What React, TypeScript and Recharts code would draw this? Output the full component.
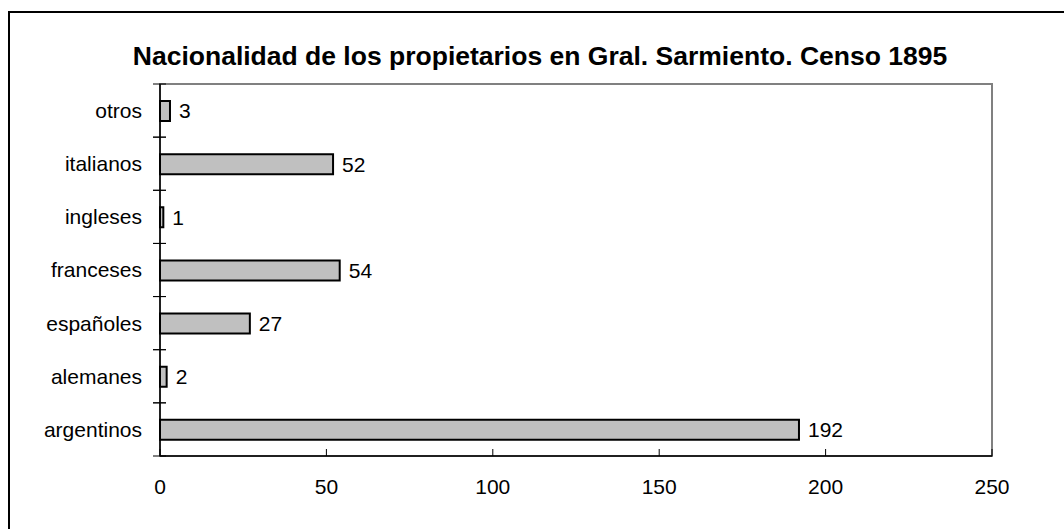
import { BarChart, Bar, XAxis, YAxis, LabelList, ReferenceArea } from 'recharts';

document.body.style.margin = '0';

const TITLE = 'Nacionalidad de los propietarios en Gral. Sarmiento. Censo 1895';

// Excel order: first category is drawn at the bottom
const nationalities = ['argentinos', 'alemanes', 'españoles', 'franceses', 'ingleses', 'italianos', 'otros'];
const owners = [192, 2, 27, 54, 1, 52, 3];
const xTicks = [0, 50, 100, 150, 200, 250];

const data = nationalities.map((name, i) => ({ name, value: owners[i] }));

const W = 1064;
const H = 529;
const FONT = '"Liberation Sans", Arial, sans-serif';

function YTick(props: any) {
  const { x, y, payload } = props;
  const half = payload?.offset ?? (456 - 84) / 14;
  return (
    <g>
      <line x1={x - 7} x2={x + 6} y1={y - half} y2={y - half} stroke="#000" strokeWidth={1} />
      <line x1={x - 7} x2={x + 6} y1={y + half} y2={y + half} stroke="#000" strokeWidth={1} />
      <text x={x - 18} y={y} dy="0.355em" textAnchor="end" fontSize={21} fontFamily={FONT} fill="#000">
        {payload.value}
      </text>
    </g>
  );
}

function XTick(props: any) {
  const { x, y, payload } = props;
  return (
    <g>
      <line x1={x} x2={x} y1={y - 7} y2={y} stroke="#000" strokeWidth={1} />
      <text x={x} y={y + 38} textAnchor="middle" fontSize={21} fontFamily={FONT} fill="#000">
        {payload.value}
      </text>
    </g>
  );
}

export default function App() {
  return (
    <div style={{ position: 'relative', width: W, height: H, background: '#fff' }}>
      <BarChart
        width={W}
        height={H}
        data={data}
        layout="vertical"
        margin={{ top: 84, right: 72, bottom: 33, left: 10 }}
        barCategoryGap="60%"
      >
        <ReferenceArea
          x1={0}
          x2={250}
          y1="otros"
          y2="argentinos"
          fill="none"
          stroke="#808080"
          strokeWidth={2}
          ifOverflow="visible"
        />
        <XAxis
          type="number"
          domain={[0, 250]}
          ticks={xTicks}
          height={40}
          tickSize={0}
          tickMargin={0}
          tickLine={false}
          axisLine={{ stroke: '#000', strokeWidth: 1.5 }}
          tick={<XTick />}
        />
        <YAxis
          type="category"
          dataKey="name"
          reversed
          width={150}
          tickSize={0}
          tickMargin={0}
          tickLine={false}
          axisLine={{ stroke: '#000', strokeWidth: 1.5 }}
          tick={<YTick />}
        />
        <Bar dataKey="value" fill="#c0c0c0" stroke="#000" strokeWidth={2} barSize={20} isAnimationActive={false}>
          <LabelList
            dataKey="value"
            position="right"
            offset={9}
            fontSize={21}
            fontFamily={FONT}
            fill="#000"
          />
        </Bar>
      </BarChart>
      <svg width={W} height={H} style={{ position: 'absolute', left: 0, top: 0, pointerEvents: 'none' }}>
        <line x1={9} x2={W} y1={12} y2={12} stroke="#000" strokeWidth={2} />
        <line x1={9} x2={9} y1={11} y2={H} stroke="#000" strokeWidth={2} />
        <text x={540} y={65} textAnchor="middle" fontSize={26.5} fontWeight="bold" fontFamily={FONT} fill="#000">
          {TITLE}
        </text>
      </svg>
    </div>
  );
}
